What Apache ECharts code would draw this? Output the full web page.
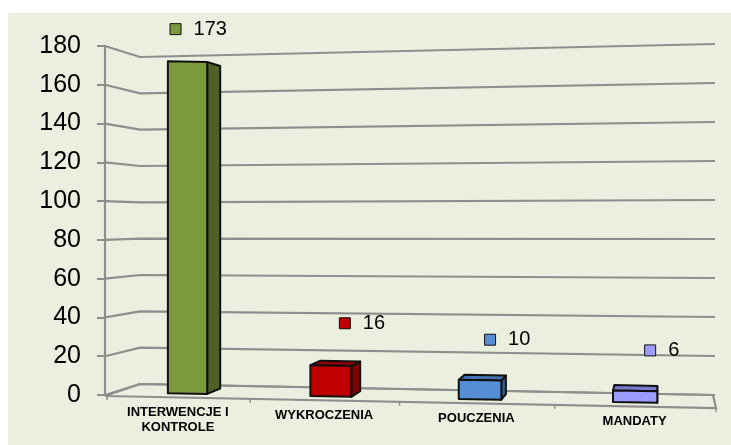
<!DOCTYPE html>
<html>
<head>
<meta charset="utf-8">
<style>
  html, body { margin: 0; background: #fff; }
  #panel { position: absolute; left: 8px; top: 13px; width: 723px; height: 432px; background: #ebefdf; }
  #chart { position: absolute; left: 0; top: 0; width: 731px; height: 445px; }
</style>
<script src="https://cdn.jsdelivr.net/npm/echarts@6/dist/echarts.min.js"></script>
</head>
<body>
<div id="panel"></div>
<div id="chart"></div>
<script>
var categories = ['INTERWENCJE I\nKONTROLE', 'WYKROCZENIA', 'POUCZENIA', 'MANDATY']
var values = [173, 16, 10, 6]
var yTicks = [0, 20, 40, 60, 80, 100, 120, 140, 160, 180]

var barColors = [
  { front: '#7a9a3c', side: '#4f6127', top: '#5f7a2e' },
  { front: '#c00000', side: '#7f0000', top: '#900000' },
  { front: '#558ed5', side: '#376092', top: '#4472b0' },
  { front: '#9c9cff', side: '#6a6ac8', top: '#7a7ad0' }
]
// marker position relative to the top of the bar
var markerOffsets = [[-12, -32], [14, -42], [10, -40], [15, -40]]

var gridColor = '#8e8e8e'
var edgeColor = '#111'
var floorL = 107, floorR = 716, floorYL = 396, floorYR = 408
var vp = [658, 205]

// perspective of the floor: band fraction to pixel x
function floorX (t) {
  return floorL + 561 * t + 48 * t * t
}
function floorY (x) {
  return floorYL + (x - floorL) / (floorR - floorL) * (floorYR - floorYL)
}
function toVp (p, d) {
  return [p[0] + (vp[0] - p[0]) * d, p[1] + (vp[1] - p[1]) * d]
}
function bandT (x) {
  return (x - floorL) / (floorR - floorL)
}

function line (points, width) {
  return {
    type: 'polyline',
    shape: { points: points },
    style: { fill: null, stroke: gridColor, lineWidth: width || 2.2 }
  }
}
function face (points, fill) {
  return {
    type: 'polygon',
    shape: { points: points },
    style: { fill: fill, stroke: edgeColor, lineWidth: 2, lineJoin: 'round' }
  }
}

function renderWall (params, api) {
  var zero = api.coord([0, 0])[1]
  var y = api.coord([0, api.value(0)])[1]
  var h = zero - y
  return line([[105, y], [140, 384 - h * 327 / 349], [715, 395 - h * 351 / 349]])
}

function renderFloor (params, api) {
  var kids = [
    line([[floorL - 2, floorYL], [140, 384], [713, 395], [floorR, floorYR], [floorL - 2, floorYL]])
  ]
  ;[0, 0.25, 0.5, 0.75, 1].forEach(function (t) {
    var x = floorX(t)
    kids.push(line([[x, floorY(x)], [x, floorY(x) + 4]], 1.5))
  })
  return { type: 'group', children: kids }
}

function renderBar (params, api) {
  var i = params.dataIndex
  var c = barColors[i]
  var mid = bandT(api.coord([i, 0])[0])
  var half = 0.035
  var xl = floorX(mid - half)
  var xr = floorX(mid + half)
  var h = (api.coord([i, 0])[1] - api.coord([i, api.value(1)])[1]) * 1.01
  var d = 0.02
  var depth = 0.0288
  var bl = toVp([xl, floorY(xl)], d)
  var br = toVp([xr, floorY(xr)], d)
  var tl = toVp([xl, floorY(xl) - h], d)
  var tr = toVp([xr, floorY(xr) - h], d)
  var kids = [
    face([br, tr, toVp(tr, depth), toVp(br, depth)], c.side)
  ]
  if (tr[1] > vp[1]) {
    kids.push(face([tl, tr, toVp(tr, depth), toVp(tl, depth)], c.top))
  }
  kids.push(face([bl, tl, tr, br], c.front))

  // square marker and value next to it
  var o = markerOffsets[i]
  var mx = (tl[0] + tr[0]) / 2 + o[0]
  var my = tl[1] + o[1]
  kids.push({
    type: 'rect',
    shape: { x: mx - 5.5, y: my - 5.5, width: 11, height: 11 },
    style: { fill: c.front, stroke: edgeColor, lineWidth: 1 }
  })
  kids.push({
    type: 'text',
    style: {
      x: mx + 18, y: my, text: String(api.value(1)),
      fill: '#000', font: '20px "Liberation Sans", Arial, sans-serif',
      align: 'left', verticalAlign: 'middle'
    }
  })

  // category label follows the tilted floor
  var cx = floorX(mid)
  kids.push({
    type: 'text',
    style: {
      x: cx, y: floorY(cx) + 8, text: categories[i],
      fill: '#000', font: 'bold 13px "Liberation Sans", Arial, sans-serif',
      lineHeight: 15, align: 'center', verticalAlign: 'top'
    }
  })
  return { type: 'group', children: kids }
}

var myChart = echarts.init(document.getElementById('chart'), null, { renderer: 'canvas' })
myChart.setOption({
  animation: false,
  backgroundColor: 'transparent',
  grid: { left: 107, right: 15, top: 46, bottom: 50 },
  xAxis: {
    type: 'category',
    data: categories,
    axisLine: { show: false },
    axisTick: { show: false },
    axisLabel: { show: false },
    splitLine: { show: false }
  },
  yAxis: {
    type: 'value',
    min: 0,
    max: 180,
    interval: 20,
    offset: 2,
    axisLine: { show: true, lineStyle: { color: gridColor, width: 2.2 } },
    axisTick: { show: true, length: 8, lineStyle: { color: gridColor, width: 2 } },
    axisLabel: { color: '#000', fontSize: 25, fontFamily: '"Liberation Sans", Arial, sans-serif', margin: 24 },
    splitLine: { show: false }
  },
  series: [
    {
      type: 'custom',
      coordinateSystem: 'cartesian2d',
      renderItem: renderWall,
      encode: { x: 1, y: 0 },
      data: yTicks.map(function (v) { return [v, 0] }),
      silent: true,
      z: 1
    },
    {
      type: 'custom',
      coordinateSystem: 'cartesian2d',
      renderItem: renderFloor,
      data: [[0, 0]],
      silent: true,
      z: 2
    },
    {
      type: 'custom',
      coordinateSystem: 'cartesian2d',
      renderItem: renderBar,
      encode: { x: 0, y: 1 },
      data: values.map(function (v, i) { return [i, v] }),
      silent: true,
      z: 3
    }
  ]
})
</script>
</body>
</html>
